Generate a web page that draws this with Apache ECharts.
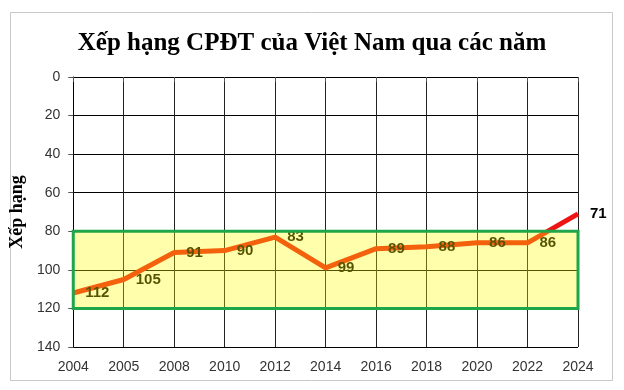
<!DOCTYPE html>
<html>
<head>
<meta charset="utf-8">
<script src="https://cdn.jsdelivr.net/npm/echarts@6/dist/echarts.min.js"></script>
<style>html,body{margin:0;padding:0;background:#fff;}#c{width:624px;height:390px;}</style>
</head>
<body>
<div id="c"></div>
<script>
var years = ['2004','2005','2008','2010','2012','2014','2016','2018','2020','2022','2024'];
var ranks = [112, 105, 91, 90, 83, 99, 89, 88, 86, 86, 71];
var yTicks = [0, 20, 40, 60, 80, 100, 120, 140];
var bandRange = [80, 120];
var titleText = 'Xếp hạng CPĐT của Việt Nam qua các năm';
var yName = 'Xếp hạng';

var chart = echarts.init(document.getElementById('c'), null, {renderer: 'canvas'});
chart.setOption({
  animation: false,
  backgroundColor: '#fff',
  graphic: [{
    type: 'rect', z: -10, silent: true,
    shape: {x: 10.5, y: 12.5, width: 602, height: 368},
    style: {fill: '#fff', stroke: '#c8c8c8', lineWidth: 1}
  }],
  title: {
    text: titleText, left: 'center', top: 26,
    textStyle: {fontFamily: 'Liberation Serif', fontWeight: 'bold', fontSize: 25, color: '#000'}
  },
  grid: {left: 72, right: 46, top: 77, bottom: 43},
  xAxis: {
    type: 'category', data: years, boundaryGap: false,
    axisLine: {lineStyle: {color: '#000', width: 1}},
    axisTick: {show: true, length: 5, lineStyle: {color: '#555'}},
    axisLabel: {fontFamily: 'Liberation Sans', fontSize: 14, color: '#333', margin: 13},
    splitLine: {show: true, lineStyle: {color: '#222', width: 1}}
  },
  yAxis: {
    type: 'value', inverse: true, min: yTicks[0], max: yTicks[yTicks.length - 1], interval: 20,
    name: yName, nameLocation: 'middle', nameGap: 32,
    nameTextStyle: {fontFamily: 'Liberation Serif', fontWeight: 'bold', fontSize: 18, color: '#000'},
    axisLine: {show: true, lineStyle: {color: '#000'}},
    axisTick: {show: true, length: 5, lineStyle: {color: '#555'}},
    axisLabel: {fontFamily: 'Liberation Sans', fontSize: 14, color: '#333', margin: 13},
    splitLine: {show: true, lineStyle: {color: '#000', width: 1}}
  },
  series: [{
    type: 'line', data: ranks, z: 3,
    symbol: 'circle', symbolSize: 0, showSymbol: true,
    itemStyle: {color: '#EE1414'},
    lineStyle: {color: '#EE1414', width: 5},
    label: {
      show: true, position: 'right', distance: 12, offset: [0, 5],
      fontFamily: 'Liberation Sans', fontSize: 15, fontWeight: 'bold', color: '#000',
      formatter: '{c}'
    },
    labelLayout: {hideOverlap: false}
  }, {
    type: 'custom', z: 20, silent: true,
    data: [bandRange],
    renderItem: function (params, api) {
      var p1 = api.coord([0, api.value(0)]);
      var p2 = api.coord([years.length - 1, api.value(1)]);
      return {
        type: 'rect',
        shape: {x: p1[0], y: p1[1], width: p2[0] - p1[0], height: p2[1] - p1[1]},
        style: {fill: 'rgba(255,255,0,0.33)', stroke: '#1FA54A', lineWidth: 3}
      };
    }
  }]
});
</script>
</body>
</html>
